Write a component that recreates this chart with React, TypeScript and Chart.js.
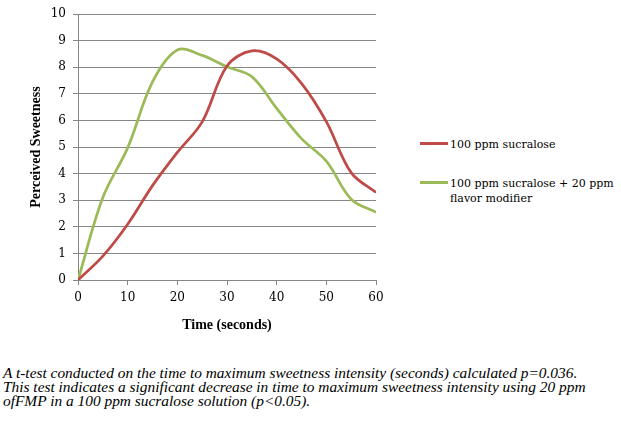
import React, { useEffect, useRef } from "react";
import Chart from "chart.js/auto";

const timeSeconds = [0, 5, 10, 15, 20, 25, 30, 35, 40, 45, 50, 55, 60];
const sucraloseOnly = [0, 0.9, 2.1, 3.55, 4.8, 5.95, 8.05, 8.62, 8.32, 7.4, 5.96, 4.04, 3.29];
const sucralosePlusFM = [0, 3.1, 4.97, 7.45, 8.65, 8.45, 8.02, 7.65, 6.46, 5.32, 4.47, 3.04, 2.55];
const seriesNames = ["100 ppm sucralose", "100 ppm sucralose + 20 ppm flavor modifier"];
const legendLines = [["100 ppm sucralose"], ["100 ppm sucralose + 20 ppm", "flavor modifier"]];
const xTitle = "Time (seconds)";
const yTitle = "Perceived Sweetness";
const captionLines = [
  "A t-test conducted on the time to maximum sweetness intensity (seconds) calculated p=0.036.",
  "This test indicates a significant decrease in time to maximum sweetness intensity using 20 ppm",
  "ofFMP in a 100 ppm sucralose solution (p<0.05).",
];

const RED = "#BE4B48";
const GREEN = "#9BBB59";
const GRID = "#868686";

export default function App() {
  const ref = useRef<HTMLCanvasElement | null>(null);

  useEffect(() => {
    if (!ref.current) return;
    const chart = new Chart(ref.current, {
      type: "line",
      data: {
        datasets: [
          {
            label: seriesNames[0],
            data: timeSeconds.map((x, i) => ({ x, y: sucraloseOnly[i] })),
            borderColor: RED,
            backgroundColor: RED,
            borderWidth: 2.75,
            pointRadius: 0,
            tension: 0.35,
          },
          {
            label: seriesNames[1],
            data: timeSeconds.map((x, i) => ({ x, y: sucralosePlusFM[i] })),
            borderColor: GREEN,
            backgroundColor: GREEN,
            borderWidth: 2.75,
            pointRadius: 0,
            tension: 0.35,
          },
        ],
      },
      options: {
        animation: false,
        responsive: false,
        layout: { padding: { top: 11, right: 24, left: 0, bottom: 0 } },
        plugins: { legend: { display: false }, tooltip: { enabled: false } },
        scales: {
          x: {
            type: "linear",
            min: 0,
            max: 60,
            ticks: {
              stepSize: 10,
              color: "#000",
              padding: 6,
              maxRotation: 0,
              font: { family: "'DejaVu Serif'", size: 12 },
            },
            grid: { drawOnChartArea: false, drawTicks: true, tickLength: 5, color: GRID },
            border: { color: GRID },
            title: {
              display: true,
              text: xTitle,
              color: "#000",
              font: { family: "'Liberation Serif'", size: 14, weight: "bold" },
              padding: { top: 0, bottom: 6 },
            },
            afterFit: (s: any) => {
              s.height = 60;
            },
          },
          y: {
            min: 0,
            max: 10,
            ticks: {
              stepSize: 1,
              color: "#000",
              padding: 7,
              font: { family: "'DejaVu Serif'", size: 12 },
            },
            grid: { color: GRID, tickLength: 5, drawTicks: true },
            border: { color: GRID },
            title: {
              display: true,
              text: yTitle,
              color: "#000",
              font: { family: "'Liberation Serif'", size: 14, weight: "bold" },
              padding: { top: 28, bottom: 0 },
            },
            afterFit: (s: any) => {
              s.width = 78;
            },
          },
        },
      },
    });
    return () => chart.destroy();
  }, []);

  const colors = [RED, GREEN];
  const legendTops = [137, 176];
  const lineYs = [143, 182];

  return (
    <div style={{ position: "absolute", left: 0, top: 0, width: 621, height: 423, background: "#fff" }}>
      <canvas ref={ref} width={400} height={340} style={{ position: "absolute", left: 0, top: 0 }} />
      {legendLines.map((lines, i) => (
        <React.Fragment key={i}>
          <div
            style={{
              position: "absolute",
              left: 420,
              top: lineYs[i] - 1.5,
              width: 28,
              height: 3,
              background: colors[i],
            }}
          />
          <div
            style={{
              position: "absolute",
              left: 450,
              top: legendTops[i],
              fontFamily: "'DejaVu Serif'",
              fontSize: 11,
              lineHeight: "15px",
              color: "#000",
              whiteSpace: "nowrap",
            }}
          >
            {lines.map((l, j) => (
              <div key={j}>{l}</div>
            ))}
          </div>
        </React.Fragment>
      ))}
      <div
        style={{
          position: "absolute",
          left: 3,
          top: 366,
          fontFamily: "'Liberation Serif'",
          fontStyle: "italic",
          fontSize: 15.4,
          lineHeight: "14px",
          color: "#000",
          whiteSpace: "nowrap",
        }}
      >
        {captionLines.map((l, j) => (
          <div key={j}>{l}</div>
        ))}
      </div>
    </div>
  );
}
